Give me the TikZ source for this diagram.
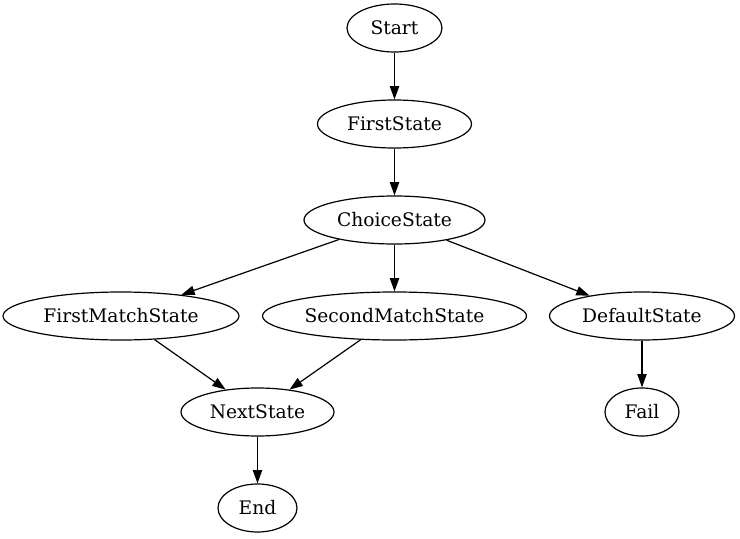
\documentclass[tikz,border=0pt]{standalone}
\usepackage{fontspec}
\setmainfont{DejaVu Serif}
\usetikzlibrary{%
  arrows.meta,%
  shapes.geometric% wg. ellipse
}

\begin{document}
\begin{tikzpicture}
  [
  x=0.75pt, y=-0.75pt,
  font=\fontsize{14pt}{16pt}\selectfont, line width=0.9pt, draw=black,
  >={Triangle[length=10pt,width=7pt]},
  state/.style={ellipse, draw=black, inner sep=0pt, minimum height=36pt},
  ]

  \useasboundingbox (0,0) rectangle (740,539);

  \node[state, minimum width=71.25pt] (start) at (394.5,28) {Start};
  \node[state, minimum width=115.5pt] (first) at (394.5,124) {FirstState};
  \node[state, minimum width=135.75pt] (choice) at (394.5,220) {ChoiceState};

  \node[state, minimum width=177pt] (firstmatch) at (121,316) {FirstMatchState};
  \node[state, minimum width=198pt] (secondmatch) at (394.5,316) {SecondMatchState};
  \node[state, minimum width=138.75pt] (default) at (642,316) {DefaultState};

  \node[state, minimum width=114.75pt] (next) at (257.5,412) {NextState};
  \node[state, minimum width=55.5pt] (fail) at (642,412) {Fail};
  \node[state, minimum width=59.25pt] (end) at (257.5,508) {End};

  \draw[->] (start) -- (first);
  \draw[->] (first) -- (choice);
  \draw[->] (choice) -- (firstmatch);
  \draw[->] (choice) -- (secondmatch);
  \draw[->] (choice) -- (default);
  \draw[->] (firstmatch) -- (next);
  \draw[->] (secondmatch) -- (next);
  \draw[->] (default) -- (fail);
  \draw[->] (next) -- (end);

\end{tikzpicture}
\end{document}
